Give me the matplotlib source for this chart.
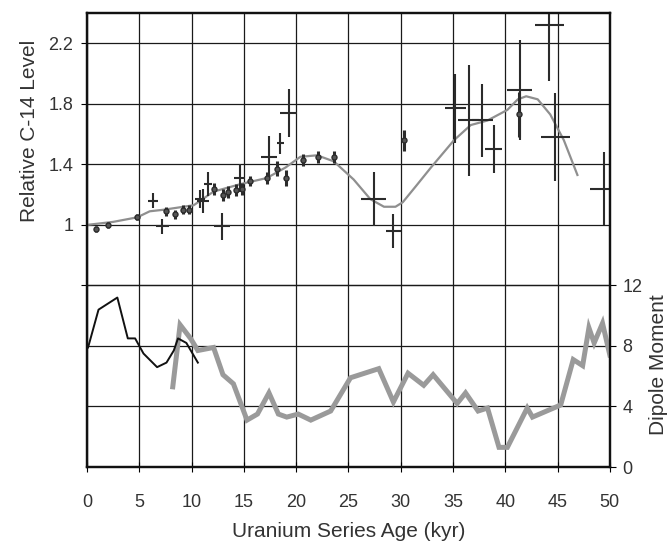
import matplotlib.pyplot as plt

plt.rcParams['font.family'] = ['Liberation Sans', 'DejaVu Sans']

# C-14 measurements shown as crosses (age kyr, relative level, errors)
cross_age = [6.3, 7.2, 10.8, 11.1, 11.6, 12.9, 14.6, 17.4, 18.5, 19.3,
             27.4, 29.3, 35.2, 36.5, 37.8, 38.9, 41.4, 44.2, 44.8, 49.4]
cross_val = [1.16, 0.99, 1.17, 1.16, 1.27, 0.99, 1.31, 1.45, 1.54, 1.74,
             1.17, 0.96, 1.77, 1.69, 1.69, 1.50, 1.89, 2.32, 1.58, 1.24]
cross_yerr = [0.05, 0.05, 0.06, 0.08, 0.08, 0.09, 0.09, 0.14, 0.07, 0.16,
              0.18, 0.11, 0.23, 0.37, 0.24, 0.16, 0.33, 0.37, 0.29, 0.24]
cross_xerr = [0.5, 0.6, 0.5, 0.6, 0.4, 0.8, 0.5, 0.8, 0.3, 0.8,
              1.2, 0.7, 1.0, 1.0, 1.0, 0.8, 1.2, 1.4, 1.4, 1.3]

# C-14 measurements shown as dots
dot_age = [0.9, 2.0, 4.8, 7.6, 8.4, 9.2, 9.8, 12.1, 13.0, 13.5, 14.2, 14.8,
           15.6, 17.2, 18.2, 19.0, 20.7, 22.1, 23.6, 30.3, 41.3]
dot_val = [0.97, 1.00, 1.05, 1.09, 1.07, 1.10, 1.10, 1.24, 1.20, 1.22, 1.23,
           1.24, 1.29, 1.31, 1.37, 1.31, 1.43, 1.45, 1.45, 1.56, 1.73]
dot_yerr = [0.02, 0.02, 0.02, 0.03, 0.03, 0.03, 0.03, 0.04, 0.04, 0.04, 0.04,
            0.04, 0.03, 0.04, 0.05, 0.05, 0.04, 0.04, 0.04, 0.07, 0.15]

# smoothed C-14 trend
trend_age = [0, 2.5, 4.8, 6, 7.3, 10.2, 12.1, 14.7, 17.2, 19, 20.4, 22.0,
             23.6, 25.5, 27.1, 28.4, 29.5, 30.2, 31.5, 32.9, 35.1, 36.7,
             38.3, 40.2, 41.2, 42.0, 43.1, 44.3, 45.6, 46.9]
trend_val = [1.00, 1.02, 1.05, 1.09, 1.10, 1.13, 1.22, 1.27, 1.31, 1.38,
             1.45, 1.46, 1.42, 1.30, 1.17, 1.12, 1.12, 1.15, 1.26, 1.38,
             1.56, 1.66, 1.69, 1.76, 1.83, 1.85, 1.83, 1.73, 1.56, 1.33]

# dipole moment, recent record (thin black)
dip1_age = [0.1, 1.1, 2.9, 3.9, 4.6, 5.4, 6.7, 7.6, 8.3, 8.7, 9.5, 10.6]
dip1_val = [7.9, 10.4, 11.2, 8.5, 8.5, 7.5, 6.6, 6.9, 7.7, 8.5, 8.2, 6.9]

# dipole moment, longer record (thick gray)
dip2_age = [8.2, 8.9, 9.9, 10.6, 12.1, 13.0, 14.0, 15.3, 16.3, 17.4, 18.3,
            19.1, 20.2, 21.4, 23.3, 25.2, 27.9, 29.3, 30.7, 32.2, 33.1,
            35.4, 36.2, 37.4, 38.3, 39.4, 40.2, 42.1, 42.6, 45.3, 46.5,
            47.4, 48.0, 48.5, 49.3, 50.0]
dip2_val = [5.3, 9.4, 8.5, 7.7, 7.9, 6.1, 5.5, 3.1, 3.5, 4.9, 3.5,
            3.3, 3.5, 3.1, 3.7, 5.9, 6.5, 4.3, 6.2, 5.4, 6.1,
            4.2, 4.9, 3.7, 3.9, 1.3, 1.3, 3.9, 3.3, 4.1, 7.1,
            6.7, 9.2, 8.2, 9.5, 7.4]

ink = '#2b2b2b'
fig = plt.figure(figsize=(6.72, 5.44), dpi=100)
ax = fig.add_axes([0.1295, 0.1415, 0.778, 0.8345])
ax2 = ax.twinx()

ax.plot(trend_age, trend_val, color='#8f8f8f', lw=1.6, zorder=2)
ax.errorbar(cross_age, cross_val, yerr=cross_yerr, xerr=cross_xerr,
            fmt='none', ecolor=ink, elinewidth=1.5, capsize=0, zorder=3)
ax.errorbar(dot_age, dot_val, yerr=dot_yerr, fmt='o', ms=3.6, color=ink,
            mfc='#555555', mec=ink, elinewidth=2.2, capsize=0, zorder=3)

ax2.plot(dip2_age, dip2_val, color='#9a9a9a', lw=3.6, solid_joinstyle='miter')
ax2.plot(dip1_age, dip1_val, color='#111111', lw=1.4)

ax.set_xlim(0, 50)
ax.set_ylim(-0.6, 2.4)
ax2.set_ylim(0, 30)
ax.set_xticks(range(0, 51, 5))
ax.set_yticks([0.6, 1.0, 1.4, 1.8, 2.2])
ax.set_yticklabels(['', '1', '1.4', '1.8', '2.2'])
ax2.set_yticks([0, 4, 8, 12])

ax.grid(True, color='#1a1a1a', lw=0.9)
ax2.grid(True, axis='y', color='#1a1a1a', lw=0.9)

for a in (ax, ax2):
    for s in a.spines.values():
        s.set_linewidth(1.6)
        s.set_color('#111111')
ax.tick_params(axis='x', direction='inout', length=7, pad=16,
               labelsize=13, labelcolor='#333333')
ax.tick_params(axis='y', direction='out', length=4, pad=6,
               labelsize=13, labelcolor='#333333')
ax2.tick_params(axis='y', direction='out', length=4, pad=5,
                labelsize=13, labelcolor='#333333')

ax.set_xlabel('Uranium Series Age (kyr)', fontsize=15, color='#333333',
              labelpad=8)
ax.set_ylabel('Relative C-14 Level', fontsize=15, color='#333333')
ax.yaxis.set_label_coords(-0.092, 0.74)
ax2.set_ylabel('Dipole Moment', fontsize=15, color='#333333')
ax2.yaxis.set_label_coords(1.075, 0.225)

fig.savefig('out.png', dpi=100)
